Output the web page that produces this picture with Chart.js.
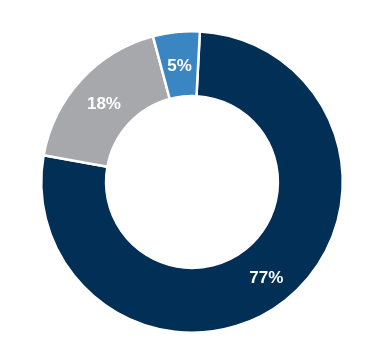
<!DOCTYPE html>
<html>
<head>
<meta charset="utf-8">
<script src="https://cdn.jsdelivr.net/npm/chart.js@4/dist/chart.umd.min.js"></script>
<style>
html,body{margin:0;padding:0;background:#fff;}
#wrap{width:384px;height:364px;position:relative;}
</style>
</head>
<body>
<div id="wrap"><canvas id="c" width="384" height="364"></canvas></div>
<script>
const categories = ["A", "B", "C"];
const values = [77, 18, 5];
const colors = ["#022F56", "#A7A8AB", "#3A86C3"];

const labelPlugin = {
  id: 'sliceLabels',
  afterDatasetsDraw(chart) {
    const ctx = chart.ctx;
    const meta = chart.getDatasetMeta(0);
    ctx.save();
    ctx.fillStyle = '#ffffff';
    ctx.font = 'bold 17px "Liberation Sans", Arial, sans-serif';
    ctx.textAlign = 'center';
    ctx.textBaseline = 'middle';
    meta.data.forEach((arc, i) => {
      const a = (arc.startAngle + arc.endAngle) / 2;
      const r = arc.innerRadius + (arc.outerRadius - arc.innerRadius) * 0.52;
      const x = arc.x + Math.cos(a) * r;
      const y = arc.y + Math.sin(a) * r + 3;
      ctx.fillText(values[i] + '%', x, y);
    });
    ctx.restore();
  }
};

new Chart(document.getElementById('c'), {
  type: 'doughnut',
  data: {
    labels: categories,
    datasets: [{
      data: values,
      backgroundColor: colors,
      borderColor: '#ffffff',
      borderWidth: 2.5
    }]
  },
  options: {
    responsive: false,
    animation: false,
    rotation: 3,
    cutout: '57%',
    layout: { padding: { top: 30, bottom: 30, left: 40, right: 40 } },
    plugins: { legend: { display: false }, tooltip: { enabled: false } }
  },
  plugins: [labelPlugin]
});
</script>
</body>
</html>
